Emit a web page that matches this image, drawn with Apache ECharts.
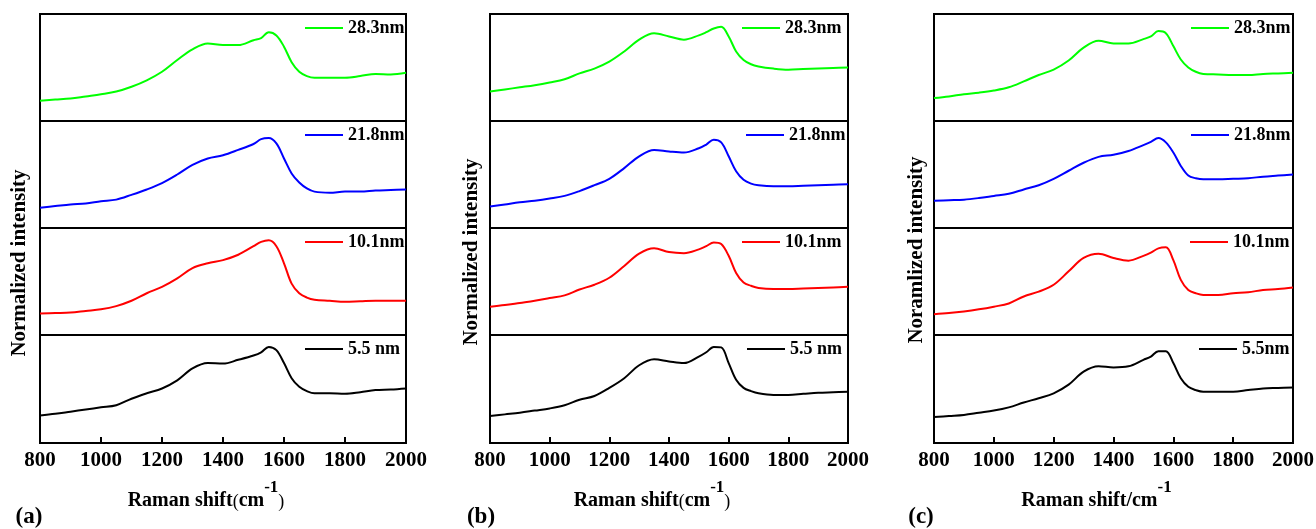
<!DOCTYPE html>
<html><head><meta charset="utf-8">
<script src="https://cdn.jsdelivr.net/npm/echarts@6/dist/echarts.min.js"></script>
<style>html,body{margin:0;padding:0;background:#fff}#c{width:1316px;height:529px}</style>
</head><body><div id="c"></div>
<script>
// Raman shift sample points (cm^-1)
const shift = [800,850,900,950,1000,1050,1100,1150,1200,1250,1300,1350,1400,1450,1500,1525,1550,1575,1600,1625,1650,1675,1700,1750,1800,1850,1900,1950,2000];
const xTicks = [800,1000,1200,1400,1600,1800,2000];
const sizeLabels = ['28.3nm','21.8nm','10.1nm','5.5 nm'];
const sizeLabelsC = ['28.3nm','21.8nm','10.1nm','5.5nm'];
const panelLabels = ['(a)','(b)','(c)'];

// Panel (a)
const a_283 = [19,20,21,23,25,27.5,32,38,46,57,67,72.5,71,71,75.5,77.5,83,80,69.5,55,46,42,40.5,40.5,40.5,42,44,43.5,45];
const a_218 = [19,20.5,22,23,25,26.5,31,36,42,50,59,65,68,73,78.5,83,84,79,65,51,42.5,37,34,33,34,34,35,35.5,36];
const a_101 = [20,20.5,21,22.5,24,27,32,39,45,53,62.5,67,70,75,83,87,88.5,83,67,48,39,35,33,32,31,31.5,32,32,32];
const a_55  = [25.5,27,29,31,33,35,41,46,50.5,58,69,74,73.5,77,81,84,89,86,74,60,52,48,46,46,45.5,47,49,49.5,50.5];
// Panel (b)
const b_283 = [27.5,29.5,31.5,33.5,36,39,44.5,49,55.5,65,76,82,79,76,80,83,86.5,88,79,65,57,53,51,49,48,48.5,49,49.5,50];
const b_218 = [20,22,24,25.5,27.5,30,34.5,40,46,56,67,73,71.5,70.5,74.5,78,82.5,80,67,53,45,41.5,40,39,39,39.5,40,40.5,41];
const b_101 = [26.5,28,30,32,34.5,37,42.5,47,53.5,64.5,76,81,77.5,76.5,80,83,86.5,85,74,58,49,46,44,43,43,43.5,44,44.5,45];
const b_55  = [25,26.5,28,30,32,35,40,43.5,51,60,72,77.5,75.5,74,80,84,89,88.5,74,58.5,51,48,46,44.5,44.5,45.5,46.5,47,47.5];
// Panel (c)
const c_283 = [21.5,23,25,26.5,28.5,31.5,37,43,48,56.5,68.5,75,72.5,72.5,76.5,79,84,82,70,57.5,50,46,44,43.5,43,43,44,44.5,45];
const c_218 = [25.5,26,26.5,28,30,32,36,40,46,53.5,61,66.5,68.5,72,77.5,80.5,84,80,70.5,58,49,46.5,45.5,45.5,46,46.5,48,49,50];
const c_101 = [19.5,20.5,22,24,26.5,29.5,36,40.5,47,59.5,72,76,72,69.5,74,77,81,82,70,51.5,42,39,37.5,37.5,39,40,42,43,44.5];
const c_55  = [24,25,26,28,30,33,37.5,41.5,46,54,66,71,70,71,77,80,85,85,74,60,52,49,47.5,47.5,47.5,49,50.5,51,51.5];

const colors = ['#00ff00','#0000ff','#ff0000','#000000'];
const FONT = '"Liberation Serif","Times New Roman",serif';

const panels = [
  {left:40, width:366, data:[a_283,a_218,a_101,a_55], names:sizeLabels, legLeft:[305,305,305,305],
   yTitle:'Normalized intensity', yx:20, yy:263, lab:{x:29,y:517},
   xName:'{m|Raman shift}{p|(}{m|cm}{s|-1}{p|)}'},
  {left:490, width:358, data:[b_283,b_218,b_101,b_55], names:sizeLabels, legLeft:[742,746,742,747],
   yTitle:'Normalized intensity', yx:472, yy:252, lab:{x:481,y:517},
   xName:'{m|Raman shift}{p|(}{m|cm}{s|-1}{p|)}'},
  {left:934, width:359, data:[c_283,c_218,c_101,c_55], names:sizeLabelsC, legLeft:[1191,1191,1190,1199],
   yTitle:'Noramlized intensity', yx:917, yy:250, lab:{x:921,y:517},
   xName:'{m|Raman shift/cm}{s|-1}'}
];
const tops = [14,121,228,335];
const H = 107;

const grid=[], xAxis=[], yAxis=[], series=[], legend=[], graphic=[];
panels.forEach((p,pi)=>{
  tops.forEach((t,si)=>{
    const gi = grid.length;
    const bottom = si===3;
    grid.push({left:p.left, top:t, width:p.width, height:(bottom?108:H), show:true, borderColor:'#000', borderWidth:2,
      backgroundColor:'transparent', containLabel:false, outerBoundsMode:'none'});
    xAxis.push({
      type:'value', gridIndex:gi, min:800, max:2000, interval:200,
      show: bottom,
      axisLine:{show:true, lineStyle:{color:'#000', width:2}},
      axisTick:{show:true, inside:true, length:6, lineStyle:{color:'#000', width:2}},
      axisLabel:{show:true, margin:7, color:'#000', fontFamily:FONT, fontWeight:'bold', fontSize:21, showMinLabel:true, showMaxLabel:true,
        formatter: v => String(v)},
      splitLine:{show:false},
      name: bottom ? p.xName : '',
      nameLocation:'middle', nameGap:36,
      nameTextStyle:{padding:[0,34,0,0],
        rich:{
          m:{fontFamily:FONT, fontWeight:'bold', fontSize:20, color:'#000', lineHeight:32, verticalAlign:'bottom'},
          p:{fontFamily:FONT, fontWeight:'normal', fontSize:18, color:'#000', lineHeight:32, verticalAlign:'bottom'},
          s:{fontFamily:FONT, fontWeight:'bold', fontSize:17, color:'#000', lineHeight:16, verticalAlign:'top'}
        }}
    });
    yAxis.push({type:'value', gridIndex:gi, min:0, max:100, show:false, splitLine:{show:false}});
    const nm = p.names[si];
    series.push({
      type:'line', name:nm, xAxisIndex:gi, yAxisIndex:gi,
      data: shift.map((x,k)=>[x, p.data[si][k]]),
      showSymbol:false, symbol:'none', smooth:0.35, silent:true,
      color: colors[si],
      lineStyle:{color:colors[si], width:2}
    });
    legend.push({
      left:p.legLeft[si], top:t+5, padding:0, orient:'horizontal',
      data:[nm], icon:'rect', itemWidth:38, itemHeight:2, selectedMode:false,
      textStyle:{fontFamily:FONT, fontWeight:'bold', fontSize:18, color:'#000'}
    });
  });
  graphic.push({type:'text', x:p.yx, y:p.yy, rotation:Math.PI/2,
    style:{text:p.yTitle, x:0, y:0, align:'center', verticalAlign:'middle', fill:'#000',
      font:'bold 21px "Liberation Serif","Times New Roman",serif'}});
  graphic.push({type:'text', x:p.lab.x, y:p.lab.y,
    style:{text:panelLabels[pi], x:0, y:0, align:'center', verticalAlign:'middle', fill:'#000',
      font:'bold 23px "Liberation Serif","Times New Roman",serif'}});
});

const chart = echarts.init(document.getElementById('c'), null, {renderer:'canvas'});
chart.setOption({animation:false, backgroundColor:'#fff', grid, xAxis, yAxis, series, legend, graphic});
</script>
</body></html>
